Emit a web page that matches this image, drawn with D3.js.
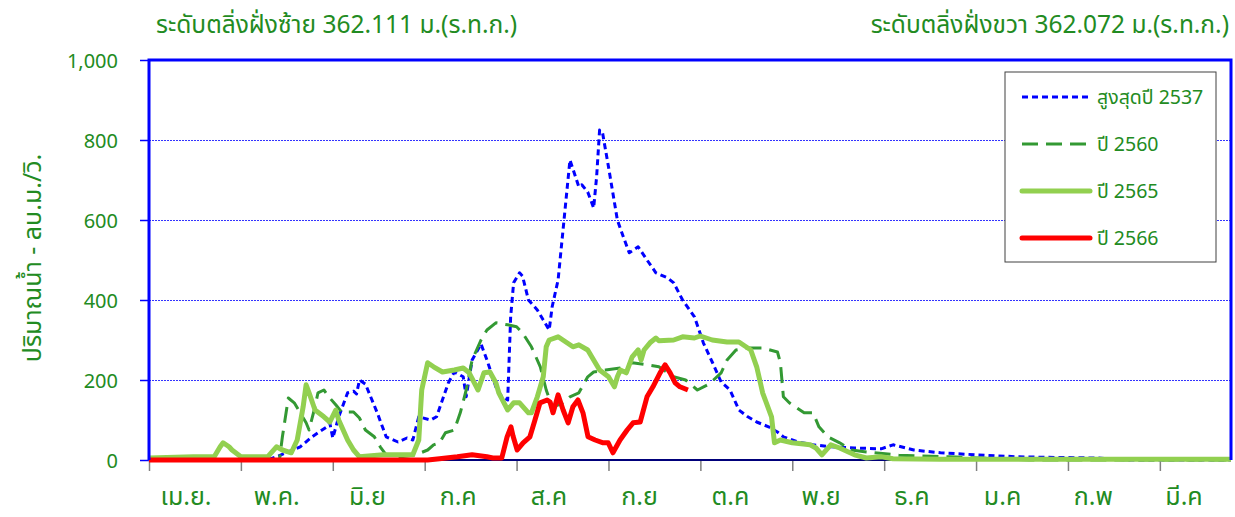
<!DOCTYPE html>
<html><head><meta charset="utf-8">
<script src="https://cdn.jsdelivr.net/npm/d3@7"></script>
<style>
html,body{margin:0;padding:0;background:#fff;}
svg text{font-family:Tahoma,"Noto Sans Thai","Noto Sans","DejaVu Sans",sans-serif;fill:#228b22;}
</style></head>
<body><svg id="chart" width="1235" height="517"></svg>
<script>
const months = ["เม.ย.","พ.ค.","มิ.ย","ก.ค","ส.ค","ก.ย","ต.ค","พ.ย","ธ.ค","ม.ค","ก.พ","มี.ค"];
const tickDays = [0,31,62,93,124,155,186,217,248,279,310,341];
const yTicks = [0,200,400,600,800,1000];
const seriesNames = ["สูงสุดปี 2537","ปี 2560","ปี 2565","ปี 2566"];
const titleLeft = "ระดับตลิ่งฝั่งซ้าย 362.111 ม.(ร.ท.ก.)";
const titleRight = "ระดับตลิ่งฝั่งขวา 362.072 ม.(ร.ท.ก.)";
const yTitle = "ปริมาณน้ำ - ลบ.ม./วิ.";

// day index (0 = 1 Apr) and discharge values
const days2537 = [0,40,43,51,55,60,61,62,64,67,69,70,71,73,77,80,84,87,89,91,95,97,101,103,106,107,109,112,114,117,119,121,122,123,125,126,128,131,133,135,136,138,140,142,145,146,148,150,151,152,153,155,158,160,162,165,168,171,175,177,180,184,187,190,193,196,199,202,205,209,212,214,219,224,230,238,247,251,258,267,279,293,310,320,330,365];
const vals2537 = [0,0,8,33,58,83,92,55,108,168,172,165,200,190,118,58,45,55,50,108,100,108,193,220,208,158,250,290,250,183,158,150,358,443,468,460,400,375,350,325,383,450,600,750,683,688,670,630,708,825,818,733,600,558,518,533,500,468,455,443,400,358,293,245,195,175,125,108,95,83,70,58,45,38,33,30,28,38,25,18,13,8,6,5,0,0];

const days2560 = [0,44,45,47,49,51,53,54,56,57,59,61,63,65,69,71,73,76,78,80,85,90,94,96,98,100,103,105,107,109,112,114,117,121,124,126,129,132,134,136,139,142,145,148,150,154,159,163,168,172,177,181,185,189,193,195,198,202,207,212,213,214,216,221,224,226,229,233,237,242,253,270,287,297,365];
const vals2560 = [0,0,58,155,143,118,93,75,133,168,175,155,138,120,120,105,75,58,33,13,8,13,25,38,43,68,75,118,175,250,300,325,343,338,333,318,283,233,175,133,140,158,168,208,220,225,230,243,238,233,208,200,175,190,218,250,275,280,280,270,243,158,143,118,118,83,58,43,25,20,12,8,3,0,0];

const days2565 = [0,15,22,24,25,27,28,31,40,43,45,48,50,52,53,54,56,59,61,63,64,67,69,71,79,89,91,92,94,96,99,103,106,108,111,113,115,117,118,121,123,125,128,129,131,133,134,135,138,141,143,145,148,150,152,155,157,158,159,161,163,165,166,167,169,171,172,177,180,184,186,190,195,199,203,205,207,210,211,213,217,223,225,227,230,233,238,242,247,251,267,365];
const vals2565 = [5,8,8,33,43,33,25,8,8,33,25,18,50,133,188,168,125,108,95,125,100,50,25,8,13,13,50,175,243,233,220,225,230,218,175,218,220,193,168,125,143,143,118,118,158,208,283,300,308,293,283,288,275,250,225,208,183,208,225,218,258,275,250,275,293,305,298,300,308,305,310,300,295,295,275,233,168,108,43,50,43,38,30,13,38,30,13,5,8,3,2,2];

const days2566 = [0,94,98,104,109,114,116,119,120.8,122.1,122.8,124.2,126.2,128.5,130.2,131.9,134.3,135.3,136.3,138,139.7,141.4,143,144.7,146.4,148.1,150.5,153.2,154.9,156.5,158.9,161.3,163.3,165.7,168,170,172.4,174.1,175.8,177.5,179.1,181.8];
const vals2566 = [0,0,3,8,13,8,5,5,58,83,60,25,43,58,100,143,150,145,118,163,125,93,133,150,118,58,50,43,43,18,50,75,93,95,158,183,218,238,218,193,183,175];

const svg = d3.select("#chart");
const x = d3.scaleLinear().domain([0,365]).range([149,1231]);
const y = d3.scaleLinear().domain([0,1000]).range([460,60]);
const labelX = d3.scalePoint().domain(months).range([186,1184]);

// titles
svg.append("text").attr("x",156).attr("y",33).attr("font-size",24.5).text(titleLeft);
svg.append("text").attr("x",1229).attr("y",33).attr("font-size",24.5).attr("text-anchor","end").text(titleRight);
svg.append("text").attr("transform","translate(41,258) rotate(-90)").attr("text-anchor","middle").attr("font-size",25).text(yTitle);

// gridlines
svg.append("g").selectAll("line").data(yTicks.filter(d=>d>0&&d<1000)).join("line")
  .attr("x1",x(0)).attr("x2",x(365)).attr("y1",d=>y(d)+0.5).attr("y2",d=>y(d)+0.5)
  .attr("stroke","#3333ff").attr("stroke-width",1).attr("stroke-dasharray","2,1")
  .attr("shape-rendering","crispEdges");

// y axis
const yAxis = svg.append("g").attr("transform",`translate(${x(0)},0)`)
  .call(d3.axisLeft(y).tickValues(yTicks).tickSize(9).tickPadding(22).tickFormat(d3.format(",")));
yAxis.select(".domain").remove();
yAxis.selectAll(".tick line").attr("stroke","#0000ff").attr("stroke-width",1.5);
yAxis.selectAll(".tick text").attr("font-size",20).attr("fill","#228b22").attr("font-family","Tahoma,'Liberation Sans',sans-serif").attr("dy","0.35em");

// x axis ticks
const xAxis = svg.append("g").attr("transform",`translate(0,${y(0)})`)
  .call(d3.axisBottom(x).tickValues(tickDays).tickSize(11).tickFormat(""));
xAxis.select(".domain").remove();
xAxis.selectAll(".tick line").attr("stroke","#808080").attr("stroke-width",1.5);
svg.append("g").selectAll("text").data(months).join("text")
  .attr("x",d=>labelX(d)).attr("y",505).attr("text-anchor","middle").attr("font-size",25).text(d=>d);

// baseline
svg.append("line").attr("x1",x(0)).attr("x2",x(365)).attr("y1",y(0)).attr("y2",y(0)).attr("stroke","#00007a").attr("stroke-width",2);

// series
const line = d3.line().x(d=>x(d[0])).y(d=>y(d[1]));
const series = [
  {days:days2537, vals:vals2537, color:"#0000ff", w:3, dash:"6,4"},
  {days:days2560, vals:vals2560, color:"#339933", w:3, dash:"16,8"},
  {days:days2565, vals:vals2565, color:"#92d050", w:5, dash:null},
  {days:days2566, vals:vals2566, color:"#ff0000", w:5, dash:null}
];
series.forEach(s=>{
  svg.append("path").datum(s.days.map((d,i)=>[d,s.vals[i]]))
    .attr("d",line).attr("fill","none").attr("stroke",s.color).attr("stroke-width",s.w)
    .attr("stroke-linejoin","round").attr("stroke-dasharray",s.dash);
});

// frame
svg.append("path").attr("d",`M${x(0)},${y(0)}V${y(1000)}H${x(365)}V${y(0)}`)
  .attr("fill","none").attr("stroke","#0000ff").attr("stroke-width",3);

// legend
const lg = svg.append("g");
lg.append("rect").attr("x",1005).attr("y",72).attr("width",211).attr("height",190)
  .attr("fill","#fff").attr("stroke","#404040").attr("stroke-width",1);
const ly = d3.scalePoint().domain(seriesNames).range([97,238]);
series.forEach((s,i)=>{
  const yy = ly(seriesNames[i]);
  lg.append("line").attr("x1",1022).attr("x2",1090).attr("y1",yy).attr("y2",yy)
    .attr("stroke",s.color).attr("stroke-width",s.w).attr("stroke-dasharray",s.dash)
    .attr("stroke-linecap",s.dash?"butt":"round");
  lg.append("text").attr("x",1097).attr("y",yy).attr("dy","0.35em").attr("font-size",19.5).text(seriesNames[i]);
});
</script></body></html>
